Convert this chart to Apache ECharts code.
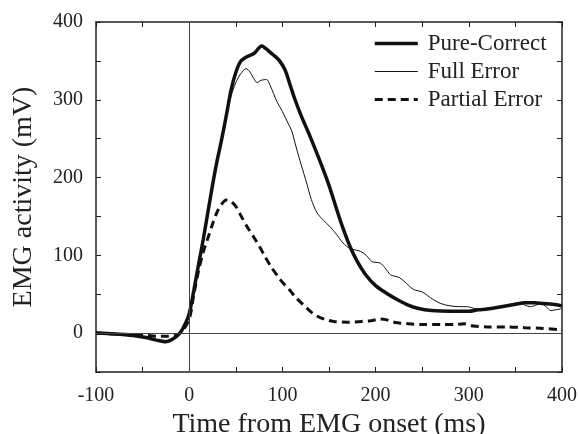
<!DOCTYPE html>
<html>
<head>
<meta charset="utf-8">
<script src="https://cdn.jsdelivr.net/npm/echarts@6/dist/echarts.min.js"></script>
<style>
  html, body { margin: 0; padding: 0; background: #fff; }
  #chart { width: 578px; height: 434px; }
</style>
</head>
<body>
<div id="chart"></div>
<script>
// time (ms) and EMG activity (mV)
const pureTime = [-100, -80, -60, -45, -35, -25, -18, -10, -5, 0, 5, 10, 15, 20, 25, 30, 35, 40, 45, 50, 55, 60, 65, 70, 75, 78, 82, 87, 92, 97, 103, 108, 113, 120, 130, 140, 150, 158, 165, 173, 180, 190, 200, 212, 225, 235, 245, 260, 280, 300, 310, 320, 335, 350, 360, 370, 380, 390, 400];
const pureVals = [0, -1, -3, -6, -9, -11, -8, 0, 10, 25, 55, 88, 120, 155, 190, 222, 250, 281, 313, 335, 349, 354, 357, 360, 367, 369, 366, 361, 356, 350, 338, 320, 302, 280, 252, 222, 190, 160, 135, 110, 93, 74, 61, 51, 42, 36, 32, 29, 28, 28, 30, 31, 34, 37, 39, 39, 38, 37, 35];

const fullTime = [-100, -80, -60, -45, -35, -25, -18, -10, -5, 0, 5, 10, 15, 20, 25, 30, 35, 40, 45, 50, 55, 61, 65, 69, 73, 77, 83, 87, 94, 100, 106, 110, 115, 120, 126, 131, 137, 144, 151, 158, 165, 172, 178, 184, 190, 196, 205, 210, 216, 221, 226, 233, 241, 250, 256, 262, 270, 280, 290, 298, 305, 312, 320, 334, 345, 355, 360, 366, 372, 377, 383, 388, 393, 398, 400];
const fullVals = [0, -1, -3, -6, -9, -10, -7, 0, 10, 24, 53, 86, 118, 152, 188, 220, 250, 278, 305, 322, 333, 340, 336, 328, 322, 325, 326, 318, 298, 285, 270, 260, 238, 217, 193, 172, 155, 145, 137, 127, 116, 109, 107, 105, 100, 92, 90, 84, 75, 73, 71, 64, 56, 53, 48, 43, 38, 35, 34, 34, 32, 31, 32, 34, 37, 39, 36, 34, 36, 38, 34, 29, 30, 31, 33];

const partialTime = [-100, -80, -60, -45, -35, -25, -15, -8, 0, 5, 10, 15, 20, 25, 30, 35, 40, 45, 50, 55, 62, 70, 76, 82, 88, 95, 101, 108, 115, 122, 130, 137, 145, 155, 170, 185, 195, 205, 212, 220, 235, 250, 270, 285, 295, 305, 320, 340, 360, 380, 400];
const partialVals = [0, -1, -2, -3, -4, -4, -3, 2, 18, 50, 80, 104, 122, 140, 156, 166, 171, 169, 163, 152, 137, 122, 110, 97, 85, 73, 64, 55, 45, 37, 28, 22, 18, 15, 14, 15, 16, 18, 17, 14, 12, 11, 11, 11, 12, 9, 8, 8, 7, 6, 4];

const seriesNames = ['Pure-Correct', 'Full Error', 'Partial Error'];
const xTicks = [-100, 0, 100, 200, 300, 400];
const yTicks = [0, 100, 200, 300, 400];

const FONT = '"Liberation Serif", "Times New Roman", serif';
const INK = '#222';

const pairs = (t, v) => t.map((x, i) => [x, v[i]]);

const frameAxis = {
  axisLine: { show: true, onZero: false, lineStyle: { color: INK, width: 1.5 } },
  axisTick: { show: true, inside: true, length: 5, lineStyle: { color: INK, width: 1 } },
  splitLine: { show: false }
};

const chart = echarts.init(document.getElementById('chart'), null, { renderer: 'canvas' });

chart.setOption({
  animation: false,
  // fixed plot box, labels may sit outside it
  grid: { left: 96, right: 16, top: 22, bottom: 62, containLabel: false, outerBoundsMode: 'none' },
  legend: {
    orient: 'vertical',
    left: 373,
    top: 32,
    padding: 0,
    itemGap: 5,
    itemWidth: 43,
    itemHeight: 14,
    // hide the marker dot, keep only the line sample
    itemStyle: { color: 'rgba(0,0,0,0)', borderWidth: 0 },
    data: [
      { name: seriesNames[0], lineStyle: { width: 3.5 } },
      { name: seriesNames[1], lineStyle: { width: 1 } },
      { name: seriesNames[2], lineStyle: { width: 3 } }
    ],
    textStyle: { fontFamily: FONT, fontSize: 23, color: INK, padding: [0, 0, 0, 5] }
  },
  xAxis: [
    {
      type: 'value', min: -100, max: 400, interval: 50,
      name: 'Time from EMG onset (ms)',
      nameLocation: 'middle', nameGap: 37,
      nameTextStyle: { fontFamily: FONT, fontSize: 28, color: INK },
      axisLabel: {
        fontFamily: FONT, fontSize: 20, color: INK, margin: 14,
        formatter: v => xTicks.includes(v) ? String(v) : ''
      },
      ...frameAxis
    },
    {
      type: 'value', position: 'top', min: -100, max: 400, interval: 50,
      axisLabel: { show: false },
      ...frameAxis
    }
  ],
  yAxis: [
    {
      type: 'value', min: -50, max: 400, interval: 50,
      name: 'EMG activity (mV)',
      nameLocation: 'middle', nameGap: 58,
      nameTextStyle: { fontFamily: FONT, fontSize: 28, color: INK },
      axisLabel: {
        fontFamily: FONT, fontSize: 20, color: INK, margin: 13,
        formatter: v => yTicks.includes(v) ? String(v) : ''
      },
      ...frameAxis
    },
    {
      type: 'value', position: 'right', min: -50, max: 400, interval: 50,
      axisLabel: { show: false },
      ...frameAxis
    }
  ],
  series: [
    {
      name: seriesNames[0], type: 'line', data: pairs(pureTime, pureVals),
      symbol: 'none', smooth: 0.3, z: 4,
      lineStyle: { color: '#111', width: 3.5 },
      itemStyle: { color: '#111' },
      markLine: {
        silent: true, symbol: ['none', 'none'], label: { show: false },
        lineStyle: { color: '#444', width: 1, type: 'solid' },
        data: [{ xAxis: 0 }, { yAxis: 0 }]
      }
    },
    {
      name: seriesNames[1], type: 'line', data: pairs(fullTime, fullVals),
      symbol: 'none', smooth: 0.3, z: 3,
      lineStyle: { color: '#111', width: 1 },
      itemStyle: { color: '#111' }
    },
    {
      name: seriesNames[2], type: 'line', data: pairs(partialTime, partialVals),
      symbol: 'none', smooth: 0.3, z: 3,
      lineStyle: { color: '#111', width: 3, type: [8, 5] },
      itemStyle: { color: '#111' }
    }
  ]
});
</script>
</body>
</html>
